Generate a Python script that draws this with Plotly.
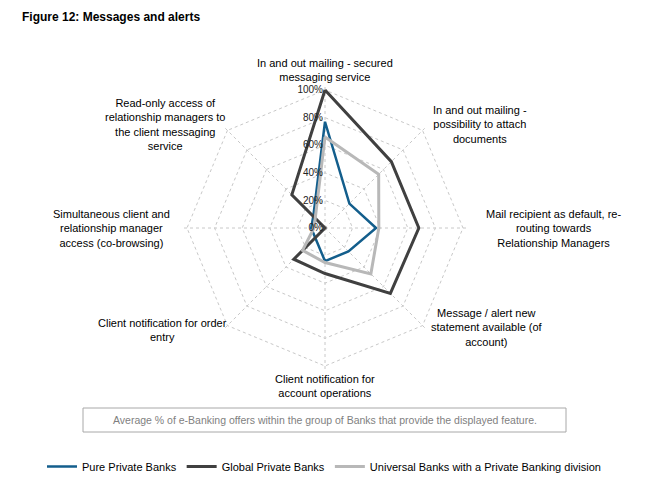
import plotly.graph_objects as go

categories = [
    "In and out mailing - secured<br>messaging service",
    "In and out mailing -<br>possibility to attach<br>documents",
    "Mail recipient as default, re-<br>routing towards<br>Relationship Managers",
    "Message / alert new<br>statement available (of<br>account)",
    "Client notification for<br>account operations",
    "Client notification for order<br>entry",
    "Simultaneous client and<br>relationship manager<br>access (co-browsing)",
    "Read-only access of<br>relationship managers to<br>the client messaging<br>service",
]
pure_private = [77, 25, 37, 24, 24, 10, 10, 12]
global_private = [100, 68, 68, 67, 33, 32, 0, 34]
universal = [66, 55, 39, 47, 25, 23, 8, 10]
radial_ticks = [0, 20, 40, 60, 80, 100]
radial_labels = ["0%", "20%", "40%", "60%", "80%", "100%"]

series_names = ["Pure Private Banks", "Global Private Banks",
                "Universal Banks with a Private Banking division"]
series_values = [pure_private, global_private, universal]
series_colors = ["#135E8C", "#404040", "#B8B8B8"]
series_widths = [2.5, 3, 3]

OFF = 8  # page body margin
W, H = 660 - OFF, 485 - OFF


def px(x):
    return (x - OFF) / W


def py(y):
    return 1 - (y - OFF) / H


RMAX = 104
cx, cy, R100 = 325, 228, 138
R = R100 * RMAX / 100

fig = go.Figure()
for name, vals, col, lw in zip(series_names, series_values, series_colors, series_widths):
    fig.add_trace(go.Scatterpolar(
        r=vals + vals[:1], theta=categories + categories[:1],
        mode="lines", name=name, line=dict(color=col, width=lw),
    ))

fig.update_layout(
    width=W, height=H,
    margin=dict(l=0, r=0, t=0, b=0),
    paper_bgcolor="white", plot_bgcolor="white",
    font=dict(family="Liberation Sans, Arial, sans-serif", size=11, color="#000000"),
    polar=dict(
        domain=dict(x=[px(cx - R), px(cx + R)], y=[py(cy + R), py(cy - R)]),
        bgcolor="rgba(0,0,0,0)",
        gridshape="linear",
        radialaxis=dict(range=[0, RMAX], tickmode="array", tickvals=radial_ticks,
                        ticktext=radial_labels, angle=90,
                        tickangle=90, side="counterclockwise",
                        showline=False, ticks="", gridcolor="#C8C8C8", griddash="dot",
                        gridwidth=1, tickfont=dict(size=10, color="#222")),
        angularaxis=dict(direction="clockwise", rotation=90, showticklabels=False,
                         ticks="", showline=False, gridcolor="#C8C8C8",
                         griddash="dot", gridwidth=1),
    ),
    showlegend=True,
    legend=dict(orientation="h", x=px(42), y=py(452), xanchor="left", yanchor="top",
                font=dict(size=11), itemwidth=30, bgcolor="rgba(0,0,0,0)"),
)

# category labels (positions in reference pixels)
label_pos = [
    (325, 70),
    (480, 125),
    (553, 228),
    (487, 327),
    (325, 386),
    (162, 330),
    (111, 228),
    (165, 124),
]
for txt, (x, y) in zip(categories, label_pos):
    fig.add_annotation(x=px(x), y=py(y), xref="paper", yref="paper", text=txt,
                       showarrow=False, align="center", xanchor="center", yanchor="middle",
                       font=dict(size=11, color="#000"))

fig.add_annotation(x=px(20), y=py(17), xref="paper", yref="paper",
                   text="<b>Figure 12: Messages and alerts</b>", showarrow=False,
                   xanchor="left", yanchor="middle", font=dict(size=12, color="#000"))

fig.add_shape(type="rect", xref="paper", yref="paper",
              x0=px(83), x1=px(566), y0=py(432), y1=py(408),
              line=dict(color="#A8A8A8", width=1), fillcolor="white")
fig.add_annotation(x=px(325), y=py(420), xref="paper", yref="paper",
                   text="Average % of e-Banking offers within the group of Banks that provide the displayed feature.",
                   showarrow=False, xanchor="center", yanchor="middle",
                   font=dict(size=10.5, color="#7F7F7F"))

fig.write_html("out.html")
